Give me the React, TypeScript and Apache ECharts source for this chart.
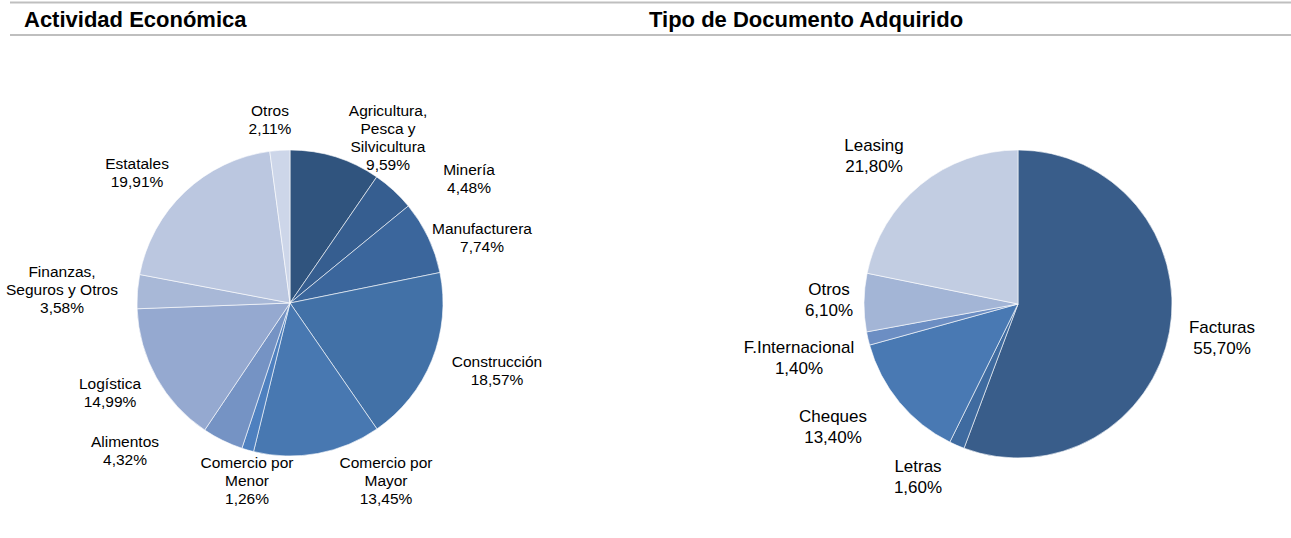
import React, { useEffect, useRef } from "react";
import * as echarts from "echarts";

const leftNames = [
  "Agricultura,\nPesca y\nSilvicultura",
  "Minería",
  "Manufacturera",
  "Construcción",
  "Comercio por\nMayor",
  "Comercio por\nMenor",
  "Alimentos",
  "Logística",
  "Finanzas,\nSeguros y Otros",
  "Estatales",
  "Otros",
];
const leftValues = [9.59, 4.48, 7.74, 18.57, 13.45, 1.26, 4.32, 14.99, 3.58, 19.91, 2.11];
const leftColors = [
  "#30547E", "#365E90", "#3B669C", "#4271A7", "#4878B1", "#4E80BF",
  "#7593C4", "#95A9D0", "#A8B8D7", "#BBC7E0", "#CDD6E9",
];
// label centre offsets from pie centre
const leftLabelOffsets = [
  [98, -166], [179, -125], [192, -66], [207, 67], [96, 177], [-43, 177],
  [-165, 147], [-180, 89], [-228, -14], [-153, -131], [-20, -184],
];

const rightNames = ["Facturas", "Letras", "Cheques", "F.Internacional", "Otros", "Leasing"];
const rightValues = [55.7, 1.6, 13.4, 1.4, 6.1, 21.8];
const rightColors = ["#395D8A", "#3F6BA0", "#4979B3", "#6C8EC3", "#A3B5D6", "#C2CDE2"];
const rightLabelOffsets = [
  [204, 34], [-100, 173], [-185, 123], [-219, 54], [-189, -4], [-144, -148],
];

const titles = ["Actividad Económica", "Tipo de Documento Adquirido"];

const fmt = (v: number) => v.toFixed(2).replace(".", ",") + "%";

export default function App() {
  const ref = useRef<HTMLDivElement>(null);
  useEffect(() => {
    document.body.style.margin = "0";
    const chart = echarts.init(ref.current!, undefined, { renderer: "svg" });
    const LC = [290, 303];
    const RC = [1018, 304];
    const labelFont = "Liberation Sans";
    chart.setOption({
      animation: false,
      backgroundColor: "#ffffff",
      graphic: [
        { type: "line", shape: { x1: 10, y1: 2.5, x2: 1291, y2: 2.5 }, style: { stroke: "#BFBFBF", lineWidth: 2 } },
        { type: "line", shape: { x1: 10, y1: 35, x2: 1291, y2: 35 }, style: { stroke: "#BFBFBF", lineWidth: 2 } },
        {
          type: "text", x: 24, y: 19.5,
          style: { text: titles[0], font: "bold 22px 'Liberation Sans'", fill: "#000", verticalAlign: "middle" },
        },
        {
          type: "text", x: 649, y: 19.5,
          style: { text: titles[1], font: "bold 22px 'Liberation Sans'", fill: "#000", verticalAlign: "middle" },
        },
      ],
      series: [
        {
          type: "pie",
          center: LC,
          radius: 153,
          startAngle: 90,
          clockwise: true,
          avoidLabelOverlap: false,
          itemStyle: { borderColor: "#ffffff", borderWidth: 0.6 },
          label: {
            show: true,
            position: "outside",
            formatter: (p: any) => `${p.name}\n${fmt(p.value)}`,
            fontSize: 15.5,
            lineHeight: 18,
            fontFamily: labelFont,
            color: "#000",
            align: "center",
          },
          labelLine: { show: false },
          labelLayout: (p: any) => ({
            x: LC[0] + leftLabelOffsets[p.dataIndex][0],
            y: LC[1] + leftLabelOffsets[p.dataIndex][1],
            align: "center",
            verticalAlign: "middle",
          }),
          data: leftNames.map((n, i) => ({ name: n, value: leftValues[i], itemStyle: { color: leftColors[i] } })),
        },
        {
          type: "pie",
          center: RC,
          radius: 154,
          startAngle: 90,
          clockwise: true,
          avoidLabelOverlap: false,
          itemStyle: { borderColor: "#ffffff", borderWidth: 0.6 },
          label: {
            show: true,
            position: "outside",
            formatter: (p: any) => `${p.name}\n${fmt(p.value)}`,
            fontSize: 17,
            lineHeight: 21,
            fontFamily: labelFont,
            color: "#000",
            align: "center",
          },
          labelLine: { show: false },
          labelLayout: (p: any) => ({
            x: RC[0] + rightLabelOffsets[p.dataIndex][0],
            y: RC[1] + rightLabelOffsets[p.dataIndex][1],
            align: "center",
            verticalAlign: "middle",
          }),
          data: rightNames.map((n, i) => ({ name: n, value: rightValues[i], itemStyle: { color: rightColors[i] } })),
        },
      ],
    });
    return () => chart.dispose();
  }, []);
  return <div ref={ref} style={{ width: 1291, height: 538 }} />;
}
